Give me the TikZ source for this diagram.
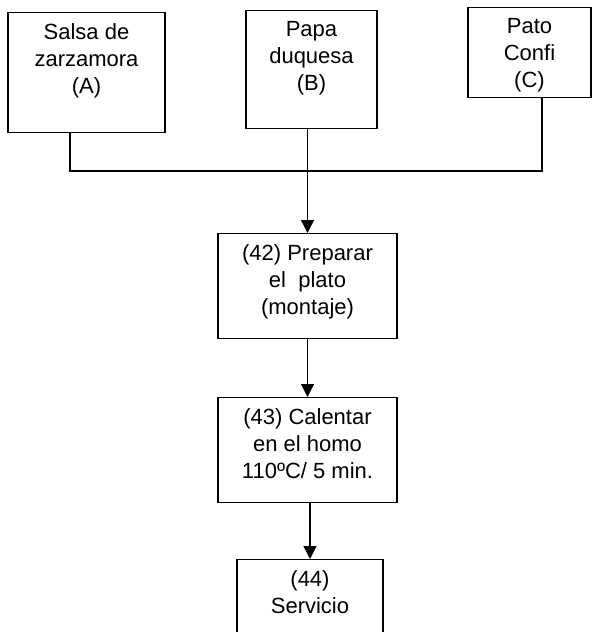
\documentclass[tikz,border=0pt]{standalone}
\usepackage{fontspec}
\setmainfont{Liberation Sans}
\usepackage{tikz}
\usetikzlibrary{arrows.meta}
\tikzset{
  flowarrow/.style={-{Triangle[length=13pt,width=13pt]},line width=1.3pt,draw=black},
  joinline/.style={line width=1.3pt,draw=black},
  stage/.style={draw=black,line width=1.3pt,anchor=north,inner sep=0pt},
  stagetext/.style={anchor=north,align=center,inner sep=0pt,yshift=-11pt,font=\fontsize{22}{27}\selectfont}
}
\begin{document}
\begin{tikzpicture}[x=1pt,y=-1pt]
  \useasboundingbox (0,0) rectangle (592,632);
  \clip (0,0) rectangle (592,632);
  \node[stage,minimum width=157pt,minimum height=120pt,
    label={[stagetext]north:Salsa de\\zarzamora\\(A)}] (salsa) at (86.5,12) {};
  \node[stage,minimum width=131pt,minimum height=118pt,
    label={[stagetext]north:Papa\\duquesa\\(B)}] (papa) at (311.5,10) {};
  \node[stage,minimum width=123pt,minimum height=90pt,
    label={[stagetext]north:Pato\\Confi\\(C)}] (pato) at (529.5,7) {};
  \node[stage,minimum width=179pt,minimum height=105pt,
    label={[stagetext]north:(42) Preparar\\el\ \ plato\\(montaje)}] (prep) at (307.5,233) {};
  \node[stage,minimum width=179pt,minimum height=105pt,
    label={[stagetext]north:(43) Calentar\\en el homo\\110ºC/ 5 min.}] (heat) at (307.5,397) {};
  \node[stage,minimum width=146pt,minimum height=95pt,
    label={[stagetext]north:(44)\\Servicio}] (serve) at (310,559) {};
  \coordinate (joinA) at (70,171);
  \coordinate (joinC) at (542,171);
  \draw[joinline] (salsa.south -| joinA) -- (joinA) -- (joinC) -- (pato.south -| joinC);
  \draw[flowarrow] (papa.south -| prep.north) -- (prep.north);
  \draw[flowarrow] (prep) -- (heat);
  \draw[flowarrow] (heat.south -| serve.north) -- (serve.north);
\end{tikzpicture}
\end{document}
